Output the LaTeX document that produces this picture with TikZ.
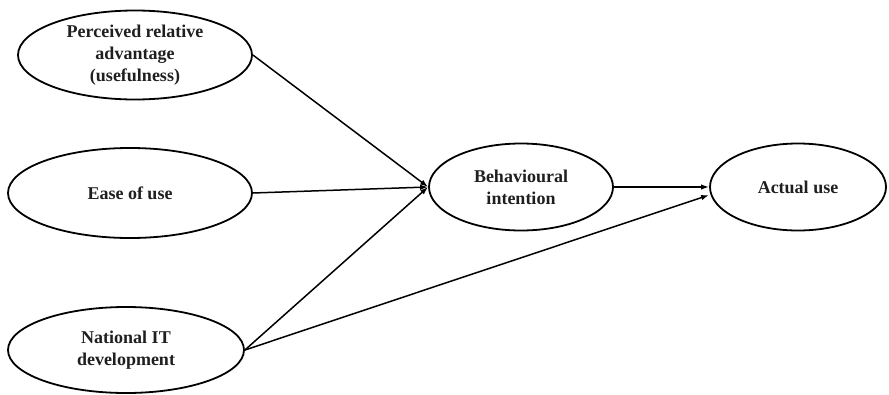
\documentclass[tikz,border=0pt]{standalone}
\usepackage{fontspec}
\setmainfont{Liberation Serif}
\usetikzlibrary{shapes.geometric,arrows.meta}
\begin{document}
\begin{tikzpicture}[x=1pt,y=-1pt,
  construct/.style={draw=black, line width=1.8pt, ellipse, inner sep=0pt, align=center,
    font=\fontsize{18}{22}\selectfont\bfseries, text=black!88},
  link/.style={line width=1.5pt, -{Latex[length=8pt,width=5.5pt]}}]
\useasboundingbox (0,0) rectangle (889,394);
\node[construct, minimum width=234pt, minimum height=89pt] (PU) at (135,55) {Perceived relative\\advantage\\(usefulness)};
\node[construct, minimum width=244pt, minimum height=90pt] (EU) at (130,193) {Ease of use};
\node[construct, minimum width=236pt, minimum height=86pt] (NIT) at (126,350) {National IT\\development};
\node[construct, minimum width=184pt, minimum height=87pt] (BI) at (521,187) {Behavioural\\intention};
\node[construct, minimum width=176pt, minimum height=87pt] (AU) at (798,187) {Actual use};
\draw[link] (PU.east) -- (BI.west);
\draw[link] (EU.east) -- (BI.west);
\draw[link] (NIT.east) -- (BI.west);
\draw[link] (BI.east) -- (AU.west);
\draw[link] (NIT.east) -- ([yshift=-8pt]AU.west);
\end{tikzpicture}
\end{document}
